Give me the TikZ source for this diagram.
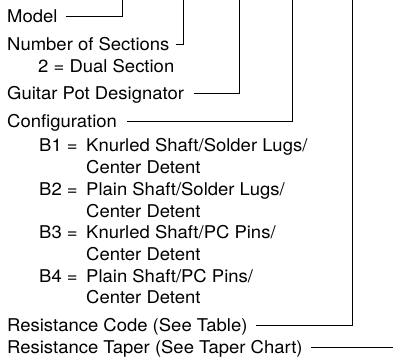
\documentclass[tikz,border=0pt]{standalone}
\usepackage{fontspec}
\setmainfont[FakeStretch=1.05]{TeX Gyre Heros}
\begin{document}
\begin{tikzpicture}[x=1pt,y=1pt,
  lbl/.style={anchor=base west,inner sep=0pt,font=\fontsize{17.6}{20}\selectfont},
  lead/.style={line width=0.8pt}]
  \useasboundingbox (0,0) rectangle (394,-364);
  % main entries
  \node[lbl] (model) at (7,-22) {Model};
  \node[lbl] (sections) at (7,-50) {Number of Sections};
  \node[lbl] (dual) at (38,-72) {2 = Dual Section};
  \node[lbl] (guitar) at (7,-99) {Guitar Pot Designator};
  \node[lbl] (config) at (7,-127) {Configuration};
  % configuration options
  \node[lbl] (b1) at (39,-151) {B1 =};
  \node[lbl] (b1a) at (86,-151) {Knurled Shaft/Solder Lugs/};
  \node[lbl] (b1b) at (86,-173) {Center Detent};
  \node[lbl] (b2) at (39,-195) {B2 =};
  \node[lbl] (b2a) at (86,-195) {Plain Shaft/Solder Lugs/};
  \node[lbl] (b2b) at (86,-217) {Center Detent};
  \node[lbl] (b3) at (39,-238) {B3 =};
  \node[lbl] (b3a) at (86,-238) {Knurled Shaft/PC Pins/};
  \node[lbl] (b3b) at (86,-260) {Center Detent};
  \node[lbl] (b4) at (39,-282) {B4 =};
  \node[lbl] (b4a) at (86,-282) {Plain Shaft/PC Pins/};
  \node[lbl] (b4b) at (86,-303) {Center Detent};
  \node[lbl] (code) at (7,-331) {Resistance Code (See Table)};
  \node[lbl] (taper) at (7,-353) {Resistance Taper (See Taper Chart)};
  % tops of the leaders
  \coordinate (t1) at (122,0);
  \coordinate (t2) at (183,0);
  \coordinate (t3) at (239,0);
  \coordinate (t4) at (292,0);
  \coordinate (t5) at (352,0);
  \coordinate (t6) at (393,0);
  % leaders
  \draw[lead] ([shift={(8,5.5)}]model.base east) -| (t1);
  \draw[lead] ([shift={(6,5.5)}]sections.base east) -| (t2);
  \draw[lead] ([shift={(10,5.5)}]guitar.base east) -| (t3);
  \draw[lead] ([shift={(10,5.5)}]config.base east) -| (t4);
  \draw[lead] ([shift={(8,5.5)}]code.base east) -| (t5);
  \draw[lead] ([shift={(8,5.5)}]taper.base east) -- ([yshift=5.5]taper.base east -| t6);
\end{tikzpicture}
\end{document}
